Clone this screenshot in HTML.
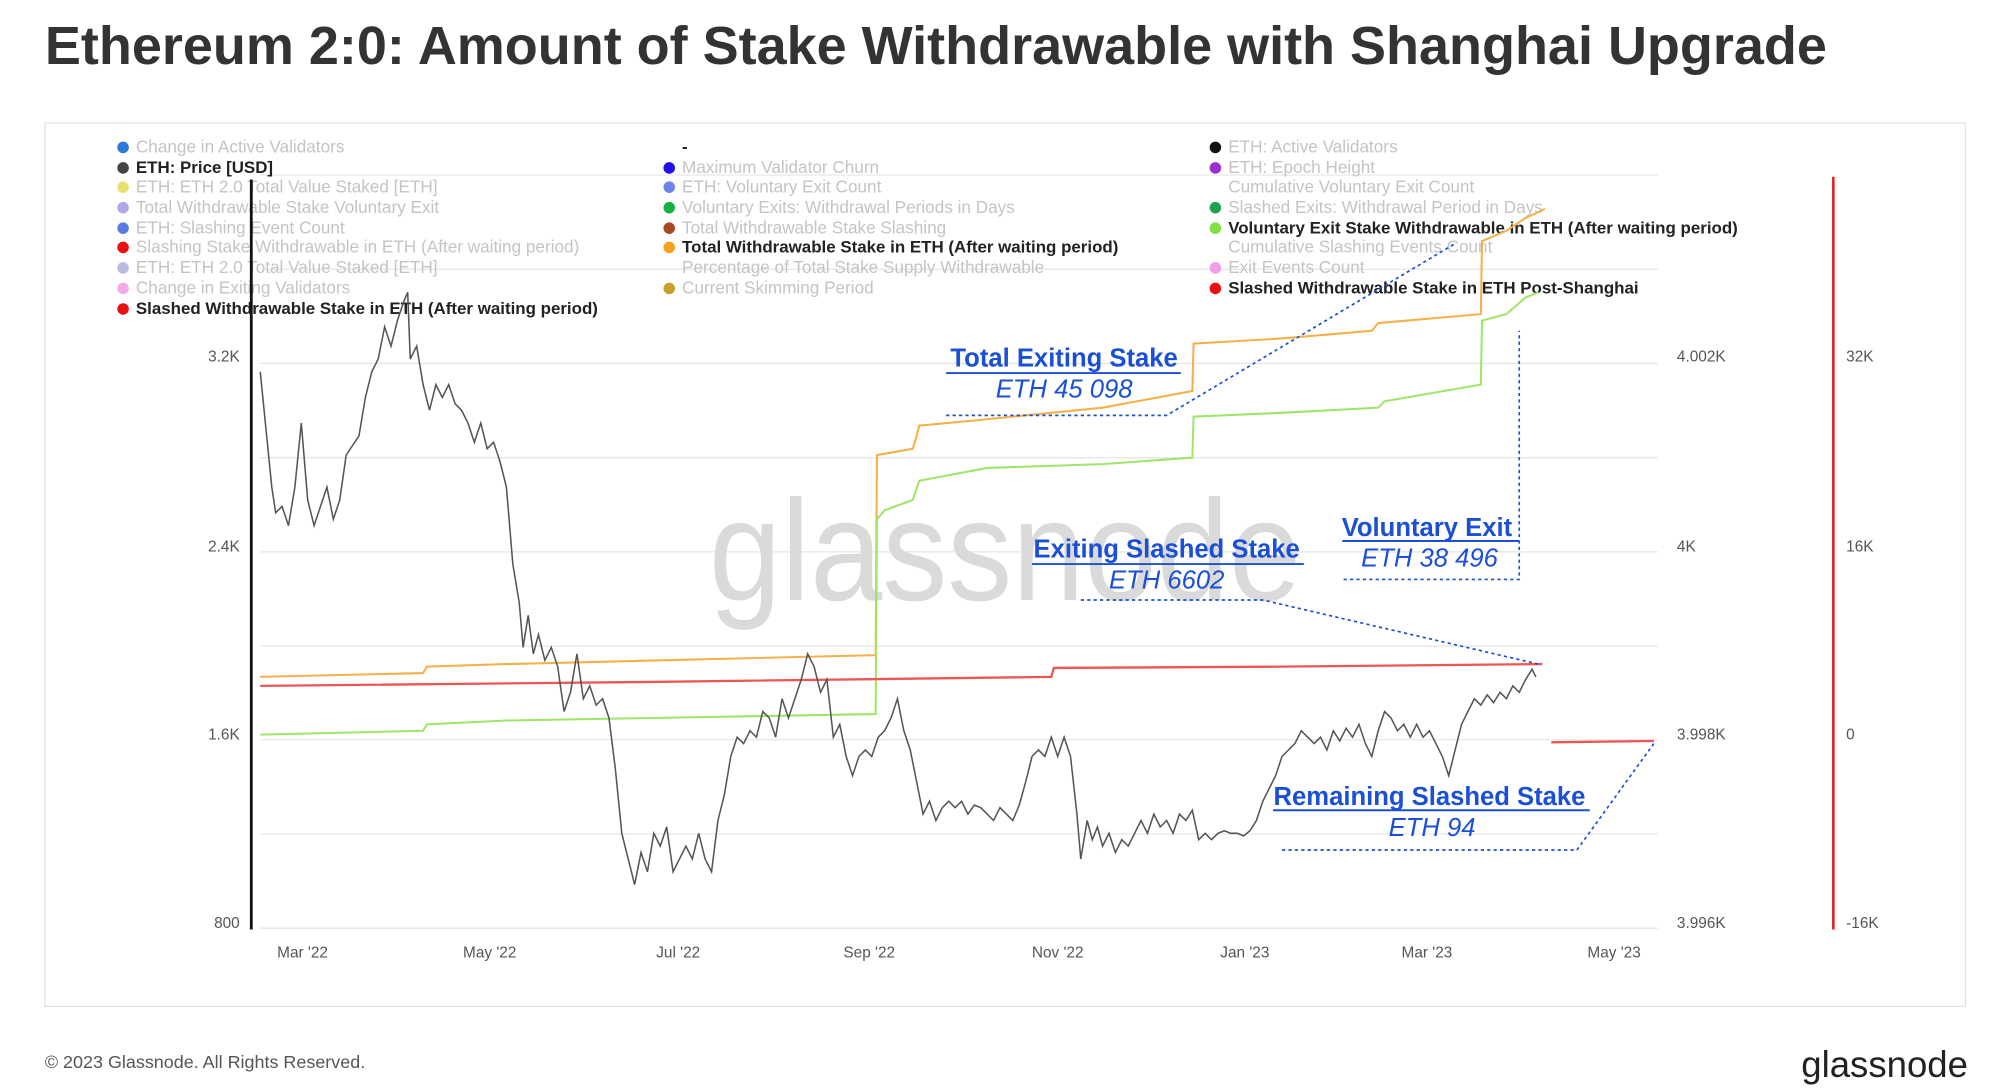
<!DOCTYPE html>
<html><head><meta charset="utf-8"><style>
html,body{margin:0;padding:0;background:#fff;}
svg{display:block;}
text{font-family:"Liberation Sans",sans-serif;}
.lg{font-size:13.4px;fill:#c4c4c4;}
.lb{font-size:13.2px;fill:#222;font-weight:bold;}
.ax{font-size:12px;fill:#555;}
.an{font-size:20px;fill:#1a4fd6;font-weight:bold;text-anchor:middle;}
.ai{font-size:20px;fill:#1a4fd6;font-style:italic;text-anchor:middle;}
.dl{stroke:#1a4fd6;stroke-width:1.3;stroke-dasharray:2.5,2.5;fill:none;}
.ul{stroke:#1a4fd6;stroke-width:1.5;}
</style></head><body>
<svg width="2000" height="1091" viewBox="0 0 1560 851" preserveAspectRatio="none" xmlns="http://www.w3.org/2000/svg">
<rect width="1560" height="851" fill="#fff"/>
<text x="35" y="50" font-size="42" font-weight="bold" fill="#333" textLength="1390" lengthAdjust="spacingAndGlyphs">Ethereum 2:0: Amount of Stake Withdrawable with Shanghai Upgrade</text>
<rect x="35" y="96" width="1498" height="689" fill="none" stroke="#e3e3e3" stroke-width="1"/>
<g stroke="#e6e6e6" stroke-width="1">
<line x1="203" y1="136.5" x2="1293" y2="136.5"/><line x1="203" y1="210" x2="1293" y2="210"/>
<line x1="203" y1="283.5" x2="1293" y2="283.5"/><line x1="203" y1="357" x2="1293" y2="357"/>
<line x1="203" y1="430.5" x2="1293" y2="430.5"/><line x1="203" y1="504" x2="1293" y2="504"/>
<line x1="203" y1="577" x2="1293" y2="577"/><line x1="203" y1="650.5" x2="1293" y2="650.5"/>
<line x1="203" y1="724" x2="1293" y2="724"/>
</g>
<text x="553" y="468" font-size="112" fill="#dadada" textLength="462" lengthAdjust="spacingAndGlyphs">glassnode</text>
<g>
<circle cx="96" cy="115" r="4.5" fill="#2b7bd6"/><text x="106" y="119" class="lg">Change in Active Validators</text>
<circle cx="96" cy="131" r="4.5" fill="#444"/><text x="106" y="135" class="lb">ETH: Price [USD]</text>
<circle cx="96" cy="146" r="4.5" fill="#e8e070"/><text x="106" y="150" class="lg">ETH: ETH 2.0 Total Value Staked [ETH]</text>
<circle cx="96" cy="162" r="4.5" fill="#b0a8e6"/><text x="106" y="166" class="lg">Total Withdrawable Stake Voluntary Exit</text>
<circle cx="96" cy="178" r="4.5" fill="#5a7be0"/><text x="106" y="182" class="lg">ETH: Slashing Event Count</text>
<circle cx="96" cy="193" r="4.5" fill="#e81010"/><text x="106" y="197" class="lg">Slashing Stake Withdrawable in ETH (After waiting period)</text>
<circle cx="96" cy="209" r="4.5" fill="#b8bce0"/><text x="106" y="213" class="lg">ETH: ETH 2.0 Total Value Staked [ETH]</text>
<circle cx="96" cy="225" r="4.5" fill="#f4a8e8"/><text x="106" y="229" class="lg">Change in Exiting Validators</text>
<circle cx="96" cy="241" r="4.5" fill="#e81010"/><text x="106" y="245" class="lb">Slashed Withdrawable Stake in ETH (After waiting period)</text>

<text x="532" y="119" class="lb">-</text>
<circle cx="522" cy="131" r="4.5" fill="#2010e8"/><text x="532" y="135" class="lg">Maximum Validator Churn</text>
<circle cx="522" cy="146" r="4.5" fill="#6a84e8"/><text x="532" y="150" class="lg">ETH: Voluntary Exit Count</text>
<circle cx="522" cy="162" r="4.5" fill="#18b040"/><text x="532" y="166" class="lg">Voluntary Exits: Withdrawal Periods in Days</text>
<circle cx="522" cy="178" r="4.5" fill="#a84820"/><text x="532" y="182" class="lg">Total Withdrawable Stake Slashing</text>
<circle cx="522" cy="193" r="4.5" fill="#f5a020"/><text x="532" y="197" class="lb">Total Withdrawable Stake in ETH (After waiting period)</text>
<text x="532" y="213" class="lg">Percentage of Total Stake Supply Withdrawable</text>
<circle cx="522" cy="225" r="4.5" fill="#c8a030"/><text x="532" y="229" class="lg">Current Skimming Period</text>

<circle cx="948" cy="115" r="4.5" fill="#111"/><text x="958" y="119" class="lg">ETH: Active Validators</text>
<circle cx="948" cy="131" r="4.5" fill="#9a30d0"/><text x="958" y="135" class="lg">ETH: Epoch Height</text>
<text x="958" y="150" class="lg">Cumulative Voluntary Exit Count</text>
<circle cx="948" cy="162" r="4.5" fill="#20a050"/><text x="958" y="166" class="lg">Slashed Exits: Withdrawal Period in Days</text>
<circle cx="948" cy="178" r="4.5" fill="#80e040"/><text x="958" y="182" class="lb">Voluntary Exit Stake Withdrawable in ETH (After waiting period)</text>
<text x="958" y="197" class="lg">Cumulative Slashing Events Count</text>
<circle cx="948" cy="209" r="4.5" fill="#f0a0e8"/><text x="958" y="213" class="lg">Exit Events Count</text>
<circle cx="948" cy="225" r="4.5" fill="#e81010"/><text x="958" y="229" class="lb">Slashed Withdrawable Stake in ETH Post-Shanghai</text>
</g>
<line x1="196" y1="140" x2="196" y2="725" stroke="#111" stroke-width="2.2"/>
<line x1="1430" y1="138" x2="1430" y2="725" stroke="#e02020" stroke-width="2"/>
<g text-anchor="end">
<text x="187" y="282" class="ax">3.2K</text><text x="187" y="430" class="ax">2.4K</text>
<text x="187" y="577" class="ax">1.6K</text><text x="187" y="724" class="ax">800</text>
</g>
<text x="1308" y="282" class="ax">4.002K</text><text x="1308" y="430" class="ax">4K</text>
<text x="1308" y="577" class="ax">3.998K</text><text x="1308" y="724" class="ax">3.996K</text>
<text x="1440" y="282" class="ax">32K</text><text x="1440" y="430" class="ax">16K</text>
<text x="1440" y="577" class="ax">0</text><text x="1440" y="724" class="ax">-16K</text>
<g text-anchor="middle">
<text x="236" y="747" class="ax">Mar '22</text>
<text x="382" y="747" class="ax">May '22</text>
<text x="529" y="747" class="ax">Jul '22</text>
<text x="678" y="747" class="ax">Sep '22</text>
<text x="825" y="747" class="ax">Nov '22</text>
<text x="971" y="747" class="ax">Jan '23</text>
<text x="1113" y="747" class="ax">Mar '23</text>
<text x="1259" y="747" class="ax">May '23</text>
</g>
<polyline fill="none" stroke="#f5b04a" stroke-width="1.6" points="203,528 330,525 333,520 395,518 683,511 684,355 712,350 715,340 717,332 760,328 820,322 860,318 930,305 931,268 1000,264 1070,258 1075,252 1155,245 1156,188 1175,180 1190,170 1205,163"/>
<polyline fill="none" stroke="#9ee66a" stroke-width="1.6" points="203,573 330,570 333,565 395,562 683,557 684,405 690,398 712,390 717,375 770,365 860,362 930,357 931,325 1000,322 1075,318 1080,313 1155,300 1156,250 1175,245 1190,232 1200,228"/>
<polyline fill="none" stroke="#ee5555" stroke-width="1.8" points="203,535 500,532 820,528 822,521 1000,520 1203,518"/>
<polyline fill="none" stroke="#ee5555" stroke-width="1.8" points="1210,579 1290,578"/>
<polyline fill="none" stroke="#555" stroke-width="1.2" points="203,290 208,340 212,380 215,400 220,395 225,410 230,380 235,330 240,390 245,410 250,395 255,380 260,405 265,390 270,355 280,340 285,310 290,290 295,280 300,255 305,270 310,250 315,235 318,228 320,280 325,270 330,300 335,320 340,300 345,310 350,300 355,315 360,320 365,330 370,345 375,330 380,350 385,345 390,360 395,380 400,440 405,470 408,505 412,480 416,510 420,495 425,515 430,505 435,520 440,555 445,540 450,510 455,545 460,535 465,550 470,545 475,560 480,600 485,650 490,670 495,690 500,665 505,680 510,650 515,660 520,645 525,680 530,670 535,660 540,670 545,650 550,670 555,680 560,640 565,620 570,590 575,575 580,580 585,570 590,575 595,555 600,560 605,575 610,545 615,560 620,545 625,530 630,510 635,520 640,540 645,530 650,575 655,565 660,590 665,605 670,590 675,585 680,590 685,575 690,570 695,560 700,545 705,570 710,585 715,610 720,635 725,625 730,640 735,630 740,625 745,630 750,625 755,635 760,628 765,630 770,635 775,640 780,630 785,635 790,640 795,628 800,610 805,590 810,585 815,590 820,575 825,590 830,575 835,590 840,635 843,670 848,640 852,655 856,645 860,660 865,650 870,665 875,655 880,660 885,650 890,640 895,650 900,635 905,645 910,640 915,650 920,635 925,640 930,632 935,655 940,650 945,655 950,650 955,648 960,650 965,650 970,652 975,648 980,640 985,625 990,615 995,605 1000,590 1005,585 1010,580 1015,570 1020,575 1025,580 1030,575 1035,585 1040,570 1045,578 1050,568 1055,575 1060,565 1065,580 1070,590 1075,570 1080,555 1085,560 1090,570 1095,565 1100,575 1105,565 1110,575 1115,570 1120,580 1125,590 1130,605 1135,585 1140,565 1145,555 1150,545 1155,550 1160,542 1165,548 1170,540 1175,545 1180,535 1185,540 1190,530 1195,522 1198,528"/>
<text x="830" y="286" class="an">Total Exiting Stake</text><line x1="738" y1="291" x2="921" y2="291" class="ul"/>
<text x="830" y="310" class="ai">ETH 45 098</text>
<polyline class="dl" points="738,324 910,324 1135,190"/>
<text x="1113" y="418" class="an">Voluntary Exit</text><line x1="1047" y1="422" x2="1185" y2="422" class="ul"/>
<text x="1115" y="442" class="ai">ETH 38 496</text>
<polyline class="dl" points="1048,452 1185,452 1185,258"/>
<text x="910" y="435" class="an">Exiting Slashed Stake</text><line x1="805" y1="440" x2="1017" y2="440" class="ul"/>
<text x="910" y="459" class="ai">ETH 6602</text>
<polyline class="dl" points="843,468 985,468 1200,518"/>
<text x="1115" y="628" class="an">Remaining Slashed Stake</text><line x1="993" y1="632" x2="1240" y2="632" class="ul"/>
<text x="1117" y="652" class="ai">ETH 94</text>
<polyline class="dl" points="1000,663 1230,663 1290,580"/>
<text x="35" y="833" font-size="14" fill="#555">© 2023 Glassnode. All Rights Reserved.</text>
<text x="1535" y="840" font-size="29" fill="#222" text-anchor="end" textLength="130" lengthAdjust="spacingAndGlyphs">glassnode</text>
</svg>
</body></html>
